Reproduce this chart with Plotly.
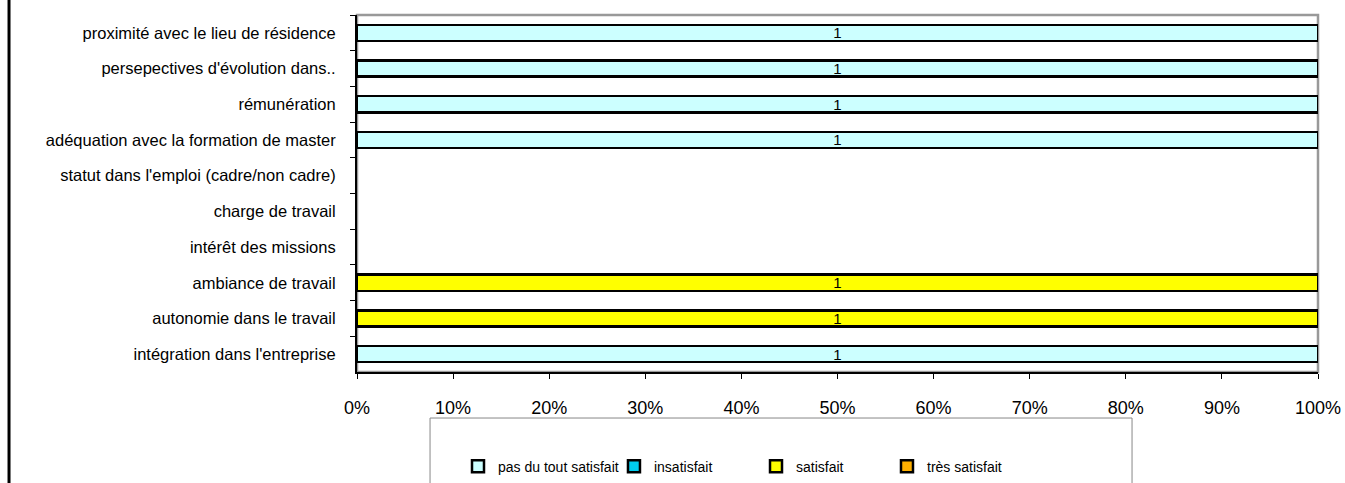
import plotly.graph_objects as go

# Criteria, listed top to bottom
criteria = [
    "proximité avec le lieu de résidence",
    "persepectives d'évolution dans..",
    "rémunération",
    "adéquation avec la formation de master",
    "statut dans l'emploi (cadre/non cadre)",
    "charge de travail",
    "intérêt des missions",
    "ambiance de travail",
    "autonomie dans le travail",
    "intégration dans l'entreprise",
]

# Number of answers per satisfaction level
pas_du_tout = [1, 1, 1, 1, 0, 0, 0, 0, 0, 1]
insatisfait = [0, 0, 0, 0, 0, 0, 0, 0, 0, 0]
satisfait = [0, 0, 0, 0, 0, 0, 0, 1, 1, 0]
tres_satisfait = [0, 0, 0, 0, 0, 0, 0, 0, 0, 0]

series = [
    ("pas du tout satisfait", pas_du_tout, "#CCFFFF"),
    ("insatisfait", insatisfait, "#00CCEE"),
    ("satisfait", satisfait, "#FFFF00"),
    ("très satisfait", tres_satisfait, "#FFB000"),
]

x_ticks = [i / 10 for i in range(11)]
x_tick_labels = [f"{i * 10}%" for i in range(11)]

FONT = "Liberation Sans, Arial, sans-serif"

# one legend per series so that each entry can be placed on its own
legend_ids = ["legend", "legend2", "legend3", "legend4"]
legend_x = [0.1051, 0.2674, 0.4152, 0.5515]

fig = go.Figure()
for (name, vals, color), lid in zip(series, legend_ids):
    fig.add_trace(go.Bar(
        y=criteria,
        x=vals,
        name=name,
        orientation="h",
        legend=lid,
        marker=dict(color=color, line=dict(color="black", width=2.5)),
        text=[str(v) if v else "" for v in vals],
        textposition="inside",
        insidetextanchor="middle",
        textangle=0,
        textfont=dict(color="black", size=15, family=FONT),
        width=0.45,
    ))

# Plot-area frame (grey top/right edges)
fig.add_shape(type="rect", xref="paper", yref="paper", x0=0, x1=1, y0=0, y1=1,
              line=dict(color="#999999", width=2.5), layer="below")
# Legend box
fig.add_shape(type="rect", xref="paper", yref="paper", x0=0.076, x1=0.8065,
              y0=-0.40, y1=-0.1289, line=dict(color="#888888", width=1))
# Chart border on the left
fig.add_shape(type="line", xref="paper", yref="paper", x0=-0.3621, x1=-0.3621,
              y0=-0.40, y1=1.10, line=dict(color="black", width=3))

legend_common = dict(
    orientation="h",
    xanchor="left",
    y=-0.265,
    yanchor="middle",
    font=dict(size=14, family=FONT),
    itemwidth=30,
    bgcolor="rgba(0,0,0,0)",
)

layout_legends = {lid: dict(x=lx, **legend_common) for lid, lx in zip(legend_ids, legend_x)}

fig.update_layout(
    barmode="stack",
    barnorm="fraction",
    width=1345,
    height=483,
    margin=dict(l=357, r=27, t=15, b=111, autoexpand=False),
    plot_bgcolor="white",
    paper_bgcolor="white",
    font=dict(family=FONT, size=16, color="black"),
    uniformtext=dict(minsize=15, mode="show"),
    showlegend=True,
    xaxis=dict(
        range=[0, 1],
        tickvals=x_ticks,
        ticktext=x_tick_labels,
        showgrid=False,
        zeroline=False,
        showline=True,
        linecolor="black",
        linewidth=2,
        ticks="outside",
        ticklen=5,
        tickwidth=1,
        tickcolor="black",
        ticklabelstandoff=13,
        tickfont=dict(size=18),
    ),
    yaxis=dict(
        categoryorder="array",
        categoryarray=criteria,
        autorange="reversed",
        showgrid=False,
        zeroline=False,
        showline=True,
        linecolor="black",
        linewidth=2,
        ticks="outside",
        tickson="boundaries",
        ticklen=5,
        tickcolor="black",
        ticklabelstandoff=16,
        tickfont=dict(size=16.5),
    ),
    **layout_legends,
)

fig.write_html("out.html")
